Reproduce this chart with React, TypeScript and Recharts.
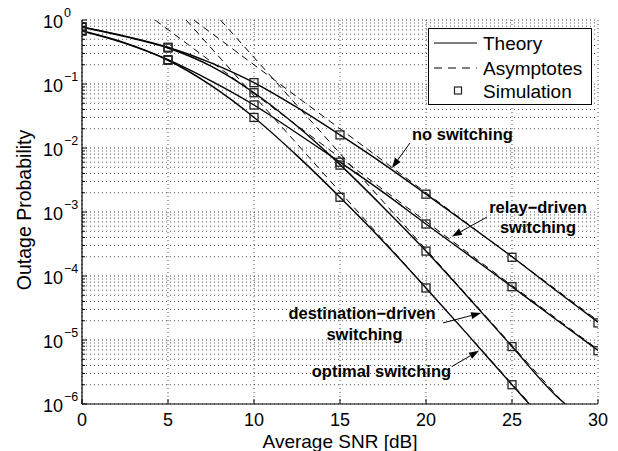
import React from 'react';
import {
  ComposedChart,
  Line,
  XAxis,
  YAxis,
  CartesianGrid,
  ReferenceLine,
  ReferenceDot,
  Legend,
} from 'recharts';

const FONT = '"Liberation Sans", Arial, Helvetica, sans-serif';

// plot box edges in pixels (chart margins below put it here)
const PLOT_LEFT = 82;
const PLOT_RIGHT = 598;
const PLOT_TOP = 20;
const PLOT_BOTTOM = 404;

// axis ticks
const snrTicks = [0, 5, 10, 15, 20, 25, 30];
const decades = [1e-6, 1e-5, 1e-4, 1e-3, 1e-2, 1e-1, 1];
const minorSteps = [2, 3, 4, 5, 6, 7, 8, 9];
const probTicks = decades.flatMap((d) => (d === 1 ? [d] : [d, ...minorSteps.map((m) => m * d)]));

// theory curves
const snrTheory = [0, 2.5, 5, 7.5, 10, 12.5, 15, 17.5, 20, 22.5, 25, 27.5, 30];
const theoryNoSwitching = [0.78, 0.56, 0.375, 0.214, 0.105, 0.043, 0.016, 0.0057, 0.0019, 6.2e-4, 2.0e-4, 6.1e-5, 1.9e-5];
const theoryRelay = [0.68, 0.44, 0.24, 0.112, 0.047, 0.017, 0.006, 0.00204, 6.5e-4, 2.1e-4, 6.8e-5, 2.15e-5, 6.9e-6];
const snrDestination = [0, 2.5, 5, 7.5, 10, 12.5, 15, 17.5, 20, 22.5, 25, 27.5, 28.1];
const theoryDestination = [0.77, 0.55, 0.365, 0.19, 0.073, 0.022, 0.0055, 0.0012, 2.45e-4, 4.5e-5, 7.9e-6, 1.4e-6, 1.0e-6];
const snrOptimal = [0, 2.5, 5, 7.5, 10, 12.5, 15, 17.5, 20, 22.5, 25, 26.0];
const theoryOptimal = [0.67, 0.43, 0.235, 0.095, 0.03, 0.0076, 0.0017, 3.5e-4, 6.5e-5, 1.15e-5, 2.0e-6, 1.0e-6];

// high-SNR asymptotes (straight on the log axis)
const asymSnrNoSwitching = [6.5, 30];
const asymNoSwitching = [1, 2.0e-5];
const asymSnrRelay = [4.25, 30];
const asymRelay = [1, 7.1e-6];
const asymSnrDestination = [8.05, 28.05];
const asymDestination = [1, 1e-6];
const asymSnrOptimal = [6.05, 26.05];
const asymOptimal = [1, 1e-6];

// simulation markers
const snrSim = [0, 5, 10, 15, 20, 25, 30];
const simNoSwitching = [0.78, 0.375, 0.105, 0.016, 0.0019, 1.96e-4, 1.85e-5];
const simRelay = [0.68, 0.24, 0.047, 0.006, 6.5e-4, 6.8e-5, 6.8e-6];
const simDestination = [0.77, 0.365, 0.073, 0.0054, 2.45e-4, 7.9e-6];
const simOptimal = [0.67, 0.235, 0.03, 0.0017, 6.5e-5, 2.0e-6];

// annotations
const noteText = ['no switching', 'relay\u2212driven', 'switching', 'destination\u2212driven', 'switching', 'optimal switching'];
const noteSnr = [22.12, 26.51, 26.51, 16.28, 16.42, 17.41];
const noteProb = [1.33e-2, 9.6e-4, 4.7e-4, 2.13e-5, 1.0e-5, 2.64e-6];
const arrowFromSnr = [19.07, 23.55, 20.99, 21.49];
const arrowFromProb = [1.2e-2, 8.35e-4, 1.85e-5, 3.83e-6];
const arrowToSnr = [18.02, 21.51, 23.2, 23.08];
const arrowToProb = [4.87e-3, 4.14e-4, 2.64e-5, 6.8e-6];

const zip = (xs: number[], ys: number[]) => ys.map((p, i) => ({ snr: xs[i], p }));

const theory = [
  zip(snrTheory, theoryNoSwitching),
  zip(snrTheory, theoryRelay),
  zip(snrDestination, theoryDestination),
  zip(snrOptimal, theoryOptimal),
];
const asymptotes = [
  zip(asymSnrNoSwitching, asymNoSwitching),
  zip(asymSnrRelay, asymRelay),
  zip(asymSnrDestination, asymDestination),
  zip(asymSnrOptimal, asymOptimal),
];
const simulation = [
  zip(snrSim, simNoSwitching),
  zip(snrSim, simRelay),
  zip(snrSim, simDestination),
  zip(snrSim, simOptimal),
];

const isMajor = (v: number) => decades.includes(v);

function LeftTick({ y, payload }: any) {
  const v = payload.value;
  const major = isMajor(v);
  const exp = Math.round(Math.log10(v));
  return (
    <g>
      <line x1={PLOT_LEFT} y1={y} x2={PLOT_LEFT + (major ? 5 : 3)} y2={y} stroke="#000" />
      {major && (
        <text x={PLOT_LEFT - 39} y={y + 8} textAnchor="start" fontFamily={FONT} fontSize={18} fill="#000">
          <tspan>10</tspan>
          <tspan dx={1} dy={-11} fontSize={12.5}>{exp < 0 ? '\u2212' + Math.abs(exp) : String(exp)}</tspan>
        </text>
      )}
    </g>
  );
}

function RightTick({ y, payload }: any) {
  const major = isMajor(payload.value);
  return <line x1={PLOT_RIGHT} y1={y} x2={PLOT_RIGHT - (major ? 5 : 3)} y2={y} stroke="#000" />;
}

function BottomTick({ x, payload }: any) {
  return (
    <g>
      <line x1={x} y1={PLOT_BOTTOM} x2={x} y2={PLOT_BOTTOM - 5} stroke="#000" />
      <text x={x} y={PLOT_BOTTOM + 22} textAnchor="middle" fontFamily={FONT} fontSize={18} fill="#000">
        {payload.value}
      </text>
    </g>
  );
}

function TopTick({ x }: any) {
  return <line x1={x} y1={PLOT_TOP} x2={x} y2={PLOT_TOP + 5} stroke="#000" />;
}

function SquareDot({ cx, cy }: any) {
  if (cx == null || cy == null) return null;
  return <rect x={cx - 4} y={cy - 4} width={8} height={8} fill="none" stroke="#222" strokeWidth={1.3} />;
}

function Arrow({ x1, y1, x2, y2 }: any) {
  const dx = x2 - x1;
  const dy = y2 - y1;
  const len = Math.sqrt(dx * dx + dy * dy) || 1;
  const ux = dx / len;
  const uy = dy / len;
  const head = 10;
  const half = 3.5;
  const bx = x2 - ux * head;
  const by = y2 - uy * head;
  return (
    <g>
      <line x1={x1} y1={y1} x2={bx} y2={by} stroke="#000" strokeWidth={1} />
      <polygon
        points={`${x2},${y2} ${bx - uy * half},${by + ux * half} ${bx + uy * half},${by - ux * half}`}
        fill="#000"
      />
    </g>
  );
}

function LegendBox() {
  return (
    <svg width={164} height={77} style={{ display: 'block' }}>
      <rect x={0.5} y={0.5} width={163} height={76} fill="#fff" stroke="#000" strokeWidth={1} />
      <line x1={6} y1={15} x2={49} y2={15} stroke="#000" strokeWidth={1.2} />
      <text x={55} y={22} fontFamily={FONT} fontSize={19} fill="#000">Theory</text>
      <line x1={6} y1={40} x2={49} y2={40} stroke="#000" strokeWidth={1} strokeDasharray="8 6" />
      <text x={55} y={47} fontFamily={FONT} fontSize={19} fill="#000">Asymptotes</text>
      <rect x={26.5} y={59} width={7} height={7} fill="none" stroke="#222" strokeWidth={1.2} />
      <text x={55} y={70} fontFamily={FONT} fontSize={19} fill="#000">Simulation</text>
    </svg>
  );
}

export default function App() {
  return (
    <div style={{ position: 'absolute', left: 0, top: 0, width: 618, height: 451, background: '#fff' }}>
      <ComposedChart width={618} height={451} margin={{ top: 20, right: 20, bottom: 17, left: 22 }}>
        <CartesianGrid stroke="#555" strokeDasharray="1 3" />
        <XAxis
          dataKey="snr"
          type="number"
          domain={[0, 30]}
          ticks={snrTicks}
          interval={0}
          allowDataOverflow
          height={30}
          tickSize={0}
          tickMargin={0}
          tickLine={false}
          tick={<BottomTick />}
          axisLine={{ stroke: '#000', strokeWidth: 1.2 }}
          label={{
            value: 'Average SNR [dB]',
            content: () => (
              <text x={340} y={447.5} textAnchor="middle" fontFamily={FONT} fontSize={19} fill="#000">
                Average SNR [dB]
              </text>
            ),
          }}
        />
        <XAxis
          xAxisId="top"
          orientation="top"
          dataKey="snr"
          type="number"
          domain={[0, 30]}
          ticks={snrTicks}
          interval={0}
          allowDataOverflow
          height={0}
          tickSize={0}
          tickMargin={0}
          tickLine={false}
          tick={<TopTick />}
          axisLine={{ stroke: '#000', strokeWidth: 1.2 }}
        />
        <YAxis
          scale="log"
          type="number"
          domain={[1e-6, 1]}
          ticks={probTicks}
          interval={0}
          allowDataOverflow
          width={60}
          tickSize={0}
          tickMargin={0}
          tickLine={false}
          tick={<LeftTick />}
          axisLine={{ stroke: '#000', strokeWidth: 1.2 }}
          label={{
            value: 'Outage Probability',
            content: () => (
              <text
                x={31}
                y={210}
                transform="rotate(-90, 31, 210)"
                textAnchor="middle"
                fontFamily={FONT}
                fontSize={19.5}
                fill="#000"
              >
                Outage Probability
              </text>
            ),
          }}
        />
        <YAxis
          yAxisId="right"
          orientation="right"
          scale="log"
          type="number"
          domain={[1e-6, 1]}
          ticks={probTicks}
          interval={0}
          allowDataOverflow
          width={0}
          tickSize={0}
          tickMargin={0}
          tickLine={false}
          tick={<RightTick />}
          axisLine={{ stroke: '#000', strokeWidth: 1.2 }}
        />

        {asymptotes.map((d, i) => (
          <Line
            key={'a' + i}
            data={d}
            dataKey="p"
            type="linear"
            stroke="#000"
            strokeWidth={1}
            strokeDasharray="7 5"
            dot={false}
            activeDot={false}
            isAnimationActive={false}
          />
        ))}
        {theory.map((d, i) => (
          <Line
            key={'t' + i}
            data={d}
            dataKey="p"
            type="monotone"
            stroke="#000"
            strokeWidth={1.4}
            dot={false}
            activeDot={false}
            isAnimationActive={false}
          />
        ))}
        {simulation.map((d, i) => (
          <Line
            key={'s' + i}
            data={d}
            dataKey="p"
            stroke="none"
            dot={<SquareDot />}
            activeDot={false}
            isAnimationActive={false}
          />
        ))}

        {arrowFromSnr.map((x, i) => (
          <ReferenceLine
            key={'arr' + i}
            segment={[
              { x, y: arrowFromProb[i] },
              { x: arrowToSnr[i], y: arrowToProb[i] },
            ]}
            shape={(p: any) => <Arrow {...p} />}
          />
        ))}
        {noteText.map((t, i) => (
          <ReferenceDot
            key={'n' + i}
            x={noteSnr[i]}
            y={noteProb[i]}
            r={0}
            shape={(p: any) => (
              <text
                x={p.cx}
                y={p.cy}
                textAnchor="middle"
                fontFamily={FONT}
                fontWeight="bold"
                fontSize={16.5}
                fill="#000"
              >
                {t}
              </text>
            )}
          />
        ))}

        <Legend
          layout="vertical"
          align="center"
          verticalAlign="middle"
          content={() => <LegendBox />}
          wrapperStyle={{ position: 'absolute', left: 428, top: 28, width: 164, height: 77 }}
        />
      </ComposedChart>
    </div>
  );
}
